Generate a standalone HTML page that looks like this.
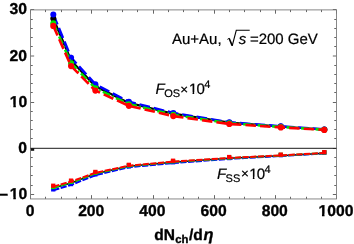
<!DOCTYPE html><html><head><meta charset="utf-8"><style>html,body{margin:0;padding:0;background:#fff;}svg{display:block;}text{font-family:"Liberation Sans",sans-serif;text-rendering:geometricPrecision;stroke:#000;stroke-width:0.22px;stroke-linejoin:round;}text.b{stroke-width:0.35px;}svg{will-change:transform;}</style></head><body>
<svg width="354" height="244" viewBox="0 0 354 244">
<rect width="354" height="244" fill="#fff"/>
<path d="M30.50 198.95v-3.80M30.50 9.90v3.80M45.50 198.95v-2.20M45.50 9.90v2.20M61.50 198.95v-2.20M61.50 9.90v2.20M76.50 198.95v-2.20M76.50 9.90v2.20M91.50 198.95v-3.80M91.50 9.90v3.80M107.50 198.95v-2.20M107.50 9.90v2.20M122.50 198.95v-2.20M122.50 9.90v2.20M137.50 198.95v-2.20M137.50 9.90v2.20M153.50 198.95v-3.80M153.50 9.90v3.80M168.50 198.95v-2.20M168.50 9.90v2.20M183.50 198.95v-2.20M183.50 9.90v2.20M198.50 198.95v-2.20M198.50 9.90v2.20M214.50 198.95v-3.80M214.50 9.90v3.80M229.50 198.95v-2.20M229.50 9.90v2.20M244.50 198.95v-2.20M244.50 9.90v2.20M260.50 198.95v-2.20M260.50 9.90v2.20M275.50 198.95v-3.80M275.50 9.90v3.80M290.50 198.95v-2.20M290.50 9.90v2.20M306.50 198.95v-2.20M306.50 9.90v2.20M321.50 198.95v-2.20M321.50 9.90v2.20M336.50 198.95v-3.80M336.50 9.90v3.80M30.55 194.50h3.60M336.45 194.50h-3.60M30.55 185.50h2.20M336.45 185.50h-2.20M30.55 175.50h2.20M336.45 175.50h-2.20M30.55 166.50h2.20M336.45 166.50h-2.20M30.55 157.50h2.20M336.45 157.50h-2.20M30.55 148.50h3.60M336.45 148.50h-3.60M30.55 138.50h2.20M336.45 138.50h-2.20M30.55 129.50h2.20M336.45 129.50h-2.20M30.55 120.50h2.20M336.45 120.50h-2.20M30.55 111.50h2.20M336.45 111.50h-2.20M30.55 102.50h3.60M336.45 102.50h-3.60M30.55 92.50h2.20M336.45 92.50h-2.20M30.55 83.50h2.20M336.45 83.50h-2.20M30.55 74.50h2.20M336.45 74.50h-2.20M30.55 65.50h2.20M336.45 65.50h-2.20M30.55 56.00h3.60M336.45 56.00h-3.60M30.55 46.50h2.20M336.45 46.50h-2.20M30.55 37.50h2.20M336.45 37.50h-2.20M30.55 28.50h2.20M336.45 28.50h-2.20M30.55 19.50h2.20M336.45 19.50h-2.20M30.55 9.50h3.60M336.45 9.50h-3.60" stroke="#555555" stroke-width="0.9" fill="none"/>
<rect x="30.55" y="9.90" width="305.90" height="189.05" fill="none" stroke="#7a7a7a" stroke-width="0.9"/>
<line x1="30.55" y1="148.31" x2="336.45" y2="148.31" stroke="#1a1a1a" stroke-width="1.0"/>
<rect x="30.9" y="148.5" width="3.3" height="2.3" fill="#111"/>
<polyline points="53.3,18.5 71.1,60.4 95.4,86.3 128.9,102.9 173.3,113.7 229.3,122.7 280.8,126.6 324.3,129.5" fill="none" stroke="#000" stroke-width="2.2"/>
<polyline points="53.3,14.6 71.1,57.7 95.4,84.3 128.9,101.8 173.3,113.0 229.3,122.3 280.8,126.3 324.3,129.4" fill="none" stroke="#0000ff" stroke-width="2.6" stroke-dasharray="10.7 3.9"/>
<circle cx="53.3" cy="18.5" r="3.0" fill="#000"/><circle cx="71.1" cy="60.4" r="3.0" fill="#000"/><circle cx="95.4" cy="86.3" r="3.0" fill="#000"/><circle cx="128.9" cy="102.9" r="3.0" fill="#000"/><circle cx="173.3" cy="113.7" r="3.0" fill="#000"/><circle cx="229.3" cy="122.7" r="3.0" fill="#000"/><circle cx="280.8" cy="126.6" r="3.0" fill="#000"/><circle cx="324.3" cy="129.5" r="3.0" fill="#000"/>
<circle cx="53.3" cy="14.6" r="3.0" fill="#0000ff"/><circle cx="71.1" cy="57.7" r="3.0" fill="#0000ff"/><circle cx="95.4" cy="84.3" r="3.0" fill="#0000ff"/><circle cx="128.9" cy="101.8" r="3.0" fill="#0000ff"/><circle cx="173.3" cy="113.0" r="3.0" fill="#0000ff"/><circle cx="229.3" cy="122.3" r="3.0" fill="#0000ff"/><circle cx="280.8" cy="126.3" r="3.0" fill="#0000ff"/><circle cx="324.3" cy="129.4" r="3.0" fill="#0000ff"/>
<polyline points="53.3,23.2 71.1,63.2 95.4,88.3 128.9,104.2 173.3,114.8 229.3,123.3 280.8,126.9 324.3,129.7" fill="none" stroke="#00e800" stroke-width="2.6" stroke-dasharray="8 2.5 1.5 2.5"/>
<circle cx="53.3" cy="23.2" r="3.0" fill="#00e800"/><circle cx="71.1" cy="63.2" r="3.0" fill="#00e800"/><circle cx="95.4" cy="88.3" r="3.0" fill="#00e800"/><circle cx="128.9" cy="104.2" r="3.0" fill="#00e800"/><circle cx="173.3" cy="114.8" r="3.0" fill="#00e800"/><circle cx="229.3" cy="123.3" r="3.0" fill="#00e800"/><circle cx="280.8" cy="126.9" r="3.0" fill="#00e800"/><circle cx="324.3" cy="129.7" r="3.0" fill="#00e800"/>
<polyline points="53.3,25.9 71.1,66.1 95.4,90.6 128.9,105.8 173.3,116.1 229.3,124.0 280.8,127.4 324.3,129.9" fill="none" stroke="#ff0000" stroke-width="2.6" stroke-dasharray="10.5 4.1"/>
<circle cx="53.3" cy="25.9" r="3.1" fill="#ff0000"/><circle cx="71.1" cy="66.1" r="3.1" fill="#ff0000"/><circle cx="95.4" cy="90.6" r="3.1" fill="#ff0000"/><circle cx="128.9" cy="105.8" r="3.1" fill="#ff0000"/><circle cx="173.3" cy="116.1" r="3.1" fill="#ff0000"/><circle cx="229.3" cy="124.0" r="3.1" fill="#ff0000"/><circle cx="280.8" cy="127.4" r="3.1" fill="#ff0000"/><circle cx="324.3" cy="129.9" r="3.1" fill="#ff0000"/>
<polyline points="53.3,188.1 71.1,182.9 95.4,173.8 128.8,166.3 173.1,162.2 229.2,158.3 280.7,155.7 324.3,153.2" fill="none" stroke="#000" stroke-width="1.6"/>
<polyline points="53.3,190.2 71.1,184.9 95.4,175.2 128.8,167.2 173.1,163.1 229.2,158.9 280.7,156.0 324.3,153.4" fill="none" stroke="#0000ff" stroke-width="2.0" stroke-dasharray="6.2 1.5"/>
<rect x="51.1" y="187.2" width="4.3" height="4.3" fill="#0000ff"/><rect x="68.9" y="181.9" width="4.3" height="4.3" fill="#0000ff"/><rect x="93.2" y="172.2" width="4.3" height="4.3" fill="#0000ff"/><rect x="126.7" y="164.2" width="4.3" height="4.3" fill="#0000ff"/><rect x="170.9" y="160.1" width="4.3" height="4.3" fill="#0000ff"/><rect x="227.0" y="155.9" width="4.3" height="4.3" fill="#0000ff"/><rect x="278.6" y="153.0" width="4.3" height="4.3" fill="#0000ff"/><rect x="322.2" y="150.5" width="4.3" height="4.3" fill="#0000ff"/>
<polyline points="53.3,187.7 71.1,182.6 95.4,173.5 128.8,166.2 173.1,162.0 229.2,158.2 280.7,155.6 324.3,153.1" fill="none" stroke="#00e800" stroke-width="2.0" stroke-dasharray="6.2 1.5"/>
<rect x="51.1" y="184.8" width="4.3" height="4.3" fill="#00e800"/><rect x="68.9" y="179.6" width="4.3" height="4.3" fill="#00e800"/><rect x="93.2" y="170.6" width="4.3" height="4.3" fill="#00e800"/><rect x="126.7" y="163.2" width="4.3" height="4.3" fill="#00e800"/><rect x="170.9" y="159.1" width="4.3" height="4.3" fill="#00e800"/><rect x="227.0" y="155.3" width="4.3" height="4.3" fill="#00e800"/><rect x="278.6" y="152.7" width="4.3" height="4.3" fill="#00e800"/><rect x="322.2" y="150.2" width="4.3" height="4.3" fill="#00e800"/>
<polyline points="53.3,186.6 71.1,181.5 95.4,172.8 128.8,165.7 173.1,161.6 229.2,157.9 280.7,155.4 324.3,153.0" fill="none" stroke="#ff0000" stroke-width="2.0" stroke-dasharray="6.2 1.5"/>
<rect x="51.1" y="183.6" width="4.3" height="4.3" fill="#ff0000"/><rect x="68.9" y="178.5" width="4.3" height="4.3" fill="#ff0000"/><rect x="93.2" y="169.8" width="4.3" height="4.3" fill="#ff0000"/><rect x="126.7" y="162.7" width="4.3" height="4.3" fill="#ff0000"/><rect x="170.9" y="158.6" width="4.3" height="4.3" fill="#ff0000"/><rect x="227.0" y="154.9" width="4.3" height="4.3" fill="#ff0000"/><rect x="278.6" y="152.5" width="4.3" height="4.3" fill="#ff0000"/><rect x="322.2" y="150.0" width="4.3" height="4.3" fill="#ff0000"/>
<text x="27.00" y="14.21" font-size="15.7" class="b" font-weight="bold" text-anchor="end">30</text>
<text x="27.00" y="60.56" font-size="15.7" class="b" font-weight="bold" text-anchor="end">20</text>
<text x="27.30" y="106.66" font-size="15.7" class="b" font-weight="bold" text-anchor="end">10</text>
<text x="27.00" y="152.76" font-size="15.7" class="b" font-weight="bold" text-anchor="end">0</text>
<text x="27.30" y="198.86" font-size="15.7" class="b" font-weight="bold" text-anchor="end">10</text>
<text x="-1.0" y="199.71" font-size="15.7" class="b" font-weight="bold">−</text>
<text x="30.05" y="215.8" font-size="15.7" class="b" font-weight="bold" text-anchor="middle">0</text>
<text x="91.23" y="215.8" font-size="15.7" class="b" font-weight="bold" text-anchor="middle">200</text>
<text x="152.41" y="215.8" font-size="15.7" class="b" font-weight="bold" text-anchor="middle">400</text>
<text x="213.59" y="215.8" font-size="15.7" class="b" font-weight="bold" text-anchor="middle">600</text>
<text x="274.77" y="215.8" font-size="15.7" class="b" font-weight="bold" text-anchor="middle">800</text>
<text x="335.95" y="215.8" font-size="15.7" class="b" font-weight="bold" text-anchor="middle">1000</text>
<rect x="10.13" y="104.61" width="3.18" height="3.50" fill="#fff"/>
<rect x="15.86" y="104.61" width="2.98" height="3.50" fill="#fff"/>
<rect x="10.13" y="196.81" width="3.18" height="3.50" fill="#fff"/>
<rect x="15.86" y="196.81" width="2.98" height="3.50" fill="#fff"/>
<rect x="318.78" y="213.75" width="3.18" height="3.50" fill="#fff"/>
<rect x="324.51" y="213.75" width="2.98" height="3.50" fill="#fff"/>
<text x="154.3" y="240" font-size="15.5" class="b" font-weight="bold">dN<tspan font-size="11.3" dy="2.9" dx="0.2">ch</tspan><tspan dy="-2.9" dx="0.6">/d</tspan><tspan font-style="italic" dx="0.8" font-size="16.3">η</tspan></text>
<text x="172.0" y="43.7" font-size="15">Au+Au,</text>
<path d="M227.3 39.5l1.8-1.3" stroke="#000" stroke-width="0.8" fill="none"/>
<path d="M229.1 38.2l3.1 7.4" stroke="#000" stroke-width="1.6" fill="none"/>
<path d="M232.2 45.9l4.1-15.7h13.4" stroke="#000" stroke-width="1.15" fill="none"/>
<text x="238.8" y="43.6" font-size="15" font-style="italic">s</text>
<text x="249.9" y="43.7" font-size="15">=200 GeV</text>
<text y="94.2" font-size="15"><tspan x="155.6" font-style="italic">F</tspan><tspan x="164.2" font-size="11" dy="2.9">OS</tspan><tspan x="180.3" dy="-3.3" font-size="13.5">×</tspan><tspan x="188.95" dy="0.4">1</tspan><tspan x="196.59">0</tspan><tspan x="204.3" font-size="11" dy="-6.0">4</tspan></text><rect x="189.49" y="92.13" width="3.08" height="3.22" fill="#fff"/><rect x="194.20" y="92.13" width="2.66" height="3.22" fill="#fff"/>
<text y="178.7" font-size="15"><tspan x="217.0" font-style="italic">F</tspan><tspan x="225.6" font-size="11" dy="2.9">SS</tspan><tspan x="241.1" dy="-3.3" font-size="13.5">×</tspan><tspan x="249.20" dy="0.4">1</tspan><tspan x="256.84">0</tspan><tspan x="264.6" font-size="11" dy="-6.0">4</tspan></text><rect x="249.74" y="176.68" width="3.08" height="3.22" fill="#fff"/><rect x="254.45" y="176.68" width="2.66" height="3.22" fill="#fff"/>
</svg></body></html>
